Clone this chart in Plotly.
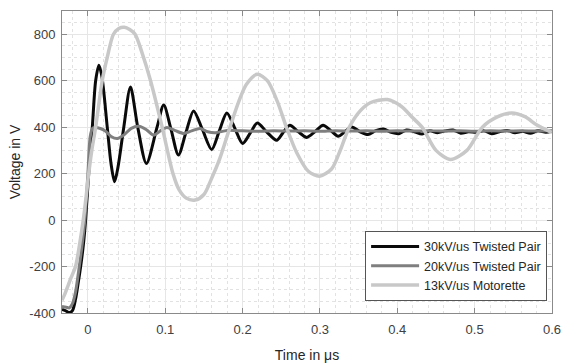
import plotly.graph_objects as go

# 30kV/us Twisted Pair (black)
t_30 = [-0.0335, -0.028, -0.024, -0.020, -0.016, -0.013, -0.0094, -0.006, -0.003, 0.001,
        0.0057, 0.010, 0.0142, 0.018, 0.025, 0.030, 0.0344, 0.039, 0.0464, 0.055,
        0.0644, 0.0756, 0.0894, 0.098, 0.1075, 0.117, 0.127, 0.1366, 0.148, 0.160,
        0.170, 0.1796, 0.190, 0.200, 0.210, 0.219, 0.231, 0.244, 0.252, 0.261,
        0.272, 0.283, 0.294, 0.304, 0.314, 0.3235, 0.332, 0.341, 0.352, 0.362,
        0.372, 0.382, 0.392, 0.402, 0.412, 0.422, 0.432, 0.442, 0.452, 0.462,
        0.472, 0.482, 0.492, 0.502, 0.512, 0.522, 0.532, 0.542, 0.552, 0.562,
        0.572, 0.582, 0.592, 0.600]
v_30 = [-385, -392, -398, -390, -340, -280, -200, -110, 0, 200,
        400, 600, 667, 620, 400, 240, 165, 230, 400, 573,
        400, 244, 400, 495, 390, 280, 380, 470, 390, 304,
        385, 461, 395, 330, 375, 418, 380, 344, 375, 408,
        380, 356, 382, 408, 385, 361, 380, 401, 380, 368,
        385, 392, 378, 372, 388, 380, 370, 384, 376, 384,
        388, 374, 380, 378, 384, 372, 380, 386, 376, 382,
        374, 384, 378, 382]

# 20kV/us Twisted Pair (dark gray)
t_20 = [-0.0335, -0.028, -0.024, -0.020, -0.016, -0.012, -0.008, -0.004, 0.000, 0.003,
        0.006, 0.010, 0.016, 0.022, 0.030, 0.038, 0.046, 0.056, 0.066, 0.076,
        0.085, 0.094, 0.102, 0.113, 0.124, 0.134, 0.145, 0.155, 0.165, 0.180,
        0.200, 0.220, 0.240, 0.260, 0.280, 0.300, 0.320, 0.340, 0.360, 0.380,
        0.400, 0.420, 0.440, 0.460, 0.480, 0.500, 0.520, 0.540, 0.560, 0.580, 0.600]
v_20 = [-372, -375, -378, -360, -310, -220, -120, 0, 200, 360,
        395, 398, 394, 385, 360, 351, 365, 395, 404, 388,
        366, 385, 399, 385, 373, 384, 394, 380, 376, 386,
        384, 382, 385, 383, 384, 382, 385, 383, 384, 382,
        384, 383, 385, 383, 384, 382, 384, 383, 384, 383, 384]

# 13kV/us Motorette (light gray)
t_13 = [-0.0335, -0.030, -0.026, -0.022, -0.016, -0.011, -0.006, -0.002, 0.001, 0.005,
        0.010, 0.0185, 0.025, 0.033, 0.040, 0.047, 0.054, 0.061, 0.070, 0.081,
        0.096, 0.110, 0.118, 0.127, 0.1386, 0.150, 0.160, 0.170, 0.1837, 0.195,
        0.205, 0.2188, 0.232, 0.245, 0.2566, 0.270, 0.285, 0.2995, 0.315, 0.325,
        0.338, 0.352, 0.365, 0.3874, 0.405, 0.420, 0.432, 0.450, 0.469, 0.490,
        0.510, 0.530, 0.548, 0.565, 0.580, 0.5955, 0.600]
v_13 = [-345, -320, -285, -250, -200, -110, 0, 110, 200, 300,
        400, 600, 700, 800, 825, 830, 820, 800, 720, 600,
        400, 200, 130, 95, 86, 110, 180, 260, 400, 510,
        585, 628, 600, 510, 400, 290, 210, 189, 220, 290,
        400, 470, 505, 519, 490, 440, 400, 300, 261, 300,
        400, 445, 461, 445, 410, 384, 378]

names = ["30kV/us Twisted Pair", "20kV/us Twisted Pair", "13kV/us Motorette"]
colors = ["#0a0a0a", "#7f7f7f", "#c8c8c8"]
widths = [3, 3, 3.5]

x_ticks = [0, 0.1, 0.2, 0.3, 0.4, 0.5, 0.6]
x_tick_labels = ["0", "0.1", "0.2", "0.3", "0.4", "0.5", "0.6"]
y_ticks = [-400, -200, 0, 200, 400, 600, 800]
y_tick_labels = ["-400", "-200", "0", "200", "400", "600", "800"]

fig = go.Figure()
for t, v, n, c, w in zip([t_30, t_20, t_13], [v_30, v_20, v_13], names, colors, widths):
    fig.add_trace(go.Scatter(x=t, y=v, mode="lines", name=n,
                             line=dict(color=c, width=w, shape="spline", smoothing=0.8)))

font_family = "Liberation Sans, Arial, sans-serif"
axis_common = dict(
    showline=True, linecolor="#8a8a8a", linewidth=1, mirror="allticks",
    ticks="inside", ticklen=5, tickcolor="#8a8a8a",
    showgrid=True, gridcolor="#e6e6e6", gridwidth=1,
    zeroline=False, automargin=False,
    tickfont=dict(family=font_family, size=13, color="#404040"),
)

fig.update_xaxes(
    range=[-0.0335, 0.6], tickvals=x_ticks, ticktext=x_tick_labels, ticklabelstandoff=4,
    minor=dict(dtick=0.02, showgrid=True, gridcolor="#e2e2e2", griddash="dot", ticks=""),
    title=dict(text="Time in μs", font=dict(family=font_family, size=14, color="#262626"), standoff=14),
    **axis_common)
fig.update_yaxes(
    range=[-400, 900], tickvals=y_ticks, ticktext=y_tick_labels, ticklabelstandoff=3,
    minor=dict(dtick=50, showgrid=True, gridcolor="#e2e2e2", griddash="dot", ticks=""),
    title=dict(text="Voltage in V", font=dict(family=font_family, size=14, color="#262626"), standoff=5),
    **axis_common)

fig.update_layout(
    width=562, height=363,
    margin=dict(l=62, r=10, t=11, b=50),
    paper_bgcolor="white", plot_bgcolor="white",
    showlegend=True,
    legend=dict(x=0.99, y=0.04, xanchor="right", yanchor="bottom",
                bgcolor="white", bordercolor="#555555", borderwidth=1,
                font=dict(family=font_family, size=12.5, color="#262626"),
                tracegroupgap=0, itemwidth=48),
    font=dict(family=font_family),
)

fig.write_html("out.html", config={"displayModeBar": False},
               post_script="document.body.style.margin='0';document.body.style.overflow='hidden';")
